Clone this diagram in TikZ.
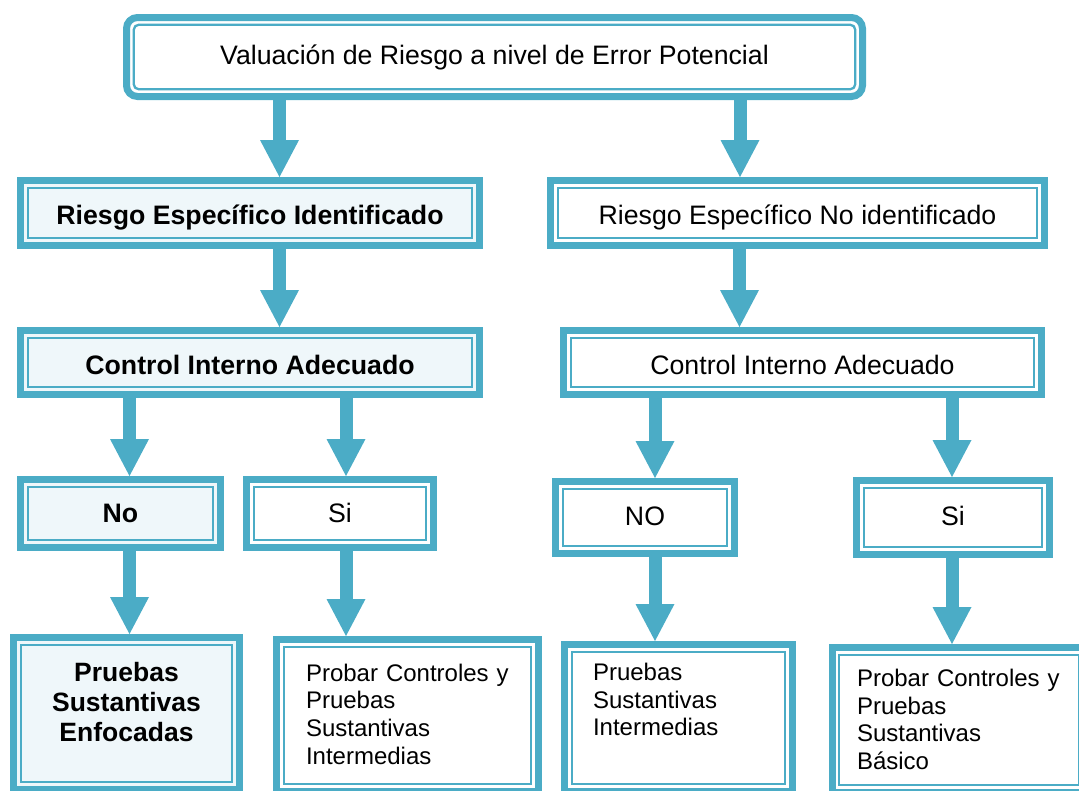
\documentclass[tikz,border=0pt]{standalone}
\usepackage{fontspec}
\setmainfont{Liberation Sans}
\usetikzlibrary{positioning,arrows.meta}
\definecolor{aqua}{RGB}{75,172,198}
\definecolor{paleaqua}{RGB}{239,247,250}

\begin{document}
\begin{tikzpicture}[x=1pt, y=-1pt, on grid,
	box/.style={draw=aqua, line width=7pt, fill=white, inner sep=0pt,
		text height=19pt, text depth=1pt,
		font=\fontsize{26.7}{32}\selectfont,
		path picture={\draw[aqua, line width=2.3pt]
			([shift={(7.25pt,-7.25pt)}]path picture bounding box.north west) rectangle
			([shift={(-7.25pt,7.25pt)}]path picture bounding box.south east);}},
	roundbox/.style={box, rounded corners=11pt,
		path picture={\draw[aqua, line width=2.3pt, rounded corners=5pt]
			([shift={(7.25pt,-7.25pt)}]path picture bounding box.north west) rectangle
			([shift={(-7.25pt,7.25pt)}]path picture bounding box.south east);}},
	keybox/.style={box, fill=paleaqua, font=\fontsize{26.7}{32}\selectfont\bfseries},
	notebox/.style={box, align=left, inner ysep=0pt, font=\fontsize{24}{27.7}\selectfont},
	arr/.style={color=aqua, line width=13pt,
		-{Triangle[width=39pt,length=37pt,line width=0pt,color=aqua,fill=aqua]}}]

	\useasboundingbox (0,0) rectangle (1079,790);

	% first levels
	\node[roundbox, minimum width=736pt, minimum height=79pt, text depth=5pt] (val) at (494.5,57) {Valuación de Riesgo a nivel de Error Potencial};

	\node[keybox, minimum width=459pt, minimum height=65pt, text height=23pt] (idl) [below left=156pt and 244.5pt of val] {Riesgo Específico Identificado};
	\node[box, minimum width=494pt, minimum height=65pt, text height=23pt] (nid) [right=547.5pt of idl] {Riesgo Específico No identificado};

	\node[keybox, minimum width=459pt, minimum height=64pt, text height=24pt] (cil) [below=149.5pt of idl] {Control Interno Adecuado};
	\node[box, minimum width=478pt, minimum height=64pt, text height=24pt] (cir) [right=552.5pt of cil] {Control Interno Adecuado};

	% answers
	\node[keybox, minimum width=200pt, minimum height=68pt] (nol) [below left=151pt and 129.5pt of cil] {No};
	\node[box, minimum width=187pt, minimum height=68pt] (sil) [right=219.5pt of nol] {Si};
	\node[box, minimum width=179pt, minimum height=72pt, text depth=4pt] (nor) [below right=4pt and 305pt of sil] {NO};
	\node[box, minimum width=193pt, minimum height=74pt, text depth=4pt] (sir) [right=308pt of nor] {Si};

	% tests
	\node[keybox, align=center, text width=200pt, inner xsep=13pt, inner ysep=0pt,
		text height=44pt, text depth=108pt, font=\fontsize{26.5}{30}\selectfont\bfseries]
		(pl) [below right=200pt and 6pt of nol] {Pruebas\\Sustantivas\\Enfocadas};
	\node[notebox, text width=203pt, inner xsep=29.5pt, text height=41.5pt, text depth=110.5pt]
		(ql) [below right=202pt and 67.5pt of sil] {Probar Controles y\\Pruebas\\Sustantivas\\Intermedias};
	\node[notebox, text width=171pt, inner xsep=28.5pt, text height=36pt, text depth=111pt]
		(pr) [below right=200.5pt and 33.5pt of nor] {Pruebas\\Sustantivas\\Intermedias};
	\node[notebox, text width=204pt, inner xsep=25pt, text height=39pt, text depth=106pt]
		(qr) [below right=202.5pt and 6pt of sir] {Probar Controles y\\Pruebas\\Sustantivas\\Básico};

	\path[arr]
		([xshift=29.5pt]idl.north |- val.south) edge ([xshift=29.5pt]idl.north)
		([xshift=-57.5pt]nid.north |- val.south) edge ([xshift=-57.5pt]nid.north)
		([xshift=29.5pt]cil.north |- idl.south) edge ([xshift=29.5pt]cil.north)
		([xshift=-63pt]cir.north |- nid.south) edge ([xshift=-63pt]cir.north)

		([xshift=9pt]nol.north |- cil.south) edge ([xshift=9pt]nol.north)
		([xshift=6pt]sil.north |- cil.south) edge ([xshift=6pt]sil.north)
		([xshift=10pt]nor.north |- cir.south) edge ([xshift=10pt]nor.north)
		([xshift=-1pt]sir.north |- cir.south) edge ([xshift=-1pt]sir.north)

		([xshift=3pt]pl.north |- nol.south) edge ([xshift=3pt]pl.north)
		([xshift=-61.5pt]ql.north |- sil.south) edge ([xshift=-61.5pt]ql.north)
		([xshift=-23.5pt]pr.north |- nor.south) edge ([xshift=-23.5pt]pr.north)
		([xshift=-7pt]qr.north |- sir.south) edge ([xshift=-7pt]qr.north);

\end{tikzpicture}
\end{document}
